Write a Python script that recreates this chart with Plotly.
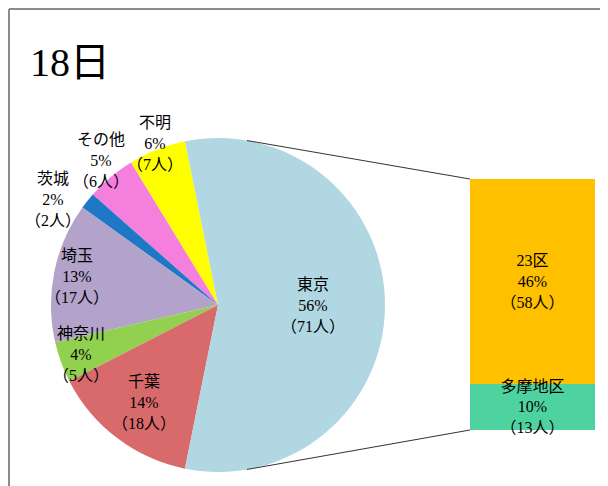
import math
import plotly.graph_objects as go

# ---- data ----
pie_labels = ["不明", "その他", "茨城", "埼玉", "神奈川", "千葉", "東京"]
pie_values = [7, 6, 2, 17, 5, 18, 71]
pie_colors = ["#FFFF00", "#F57FDD", "#1E78C6", "#B3A2CA", "#92D050", "#D86A6C", "#B0D7E2"]

bar_labels = ["23区", "多摩地区"]
bar_values = [58, 13]
bar_colors = ["#FFC000", "#4ED3A0"]

title_text = "18日"

# ---- layout constants (positions, not data) ----
label_radius = [1.04, 1.11, 1.17, 0.86, 0.87, 0.73, 0.57]  # label distance as fraction of R
label_dangle = [0, -1, 6, 0, 0, 0, 0]                       # small angular nudges (deg)

OFF = 8                       # browser body margin
W, H = 608 - OFF, 486 - OFF
total = sum(pie_values)

cx, cy, R = 218, 305, 167     # pie centre / radius in window pixels
fx = lambda px: (px - OFF) / W
fy = lambda py: 1 - (py - OFF) / H

# Tokyo (last slice) centred on the right; counterclockwise from its top edge
deg = [v / total * 360 for v in pie_values]
tokyo_top_cw = 90 - deg[-1] / 2          # clockwise-from-12 angle of Tokyo's top edge
rot = tokyo_top_cw - deg[0]

font_fam = "Liberation Serif, Noto Sans CJK JP, serif"
FS = 16

fig = go.Figure()
fig.add_trace(go.Pie(
    labels=pie_labels, values=pie_values, sort=False,
    direction="counterclockwise", rotation=rot,
    marker=dict(colors=pie_colors, line=dict(width=0)),
    textinfo="none",
    domain=dict(x=[fx(cx - R), fx(cx + R)], y=[fy(cy + R), fy(cy - R)]),
    showlegend=False, hoverinfo="label+value+percent",
))

# pie labels placed at each slice's mid-angle (computed from the data)
annotations = []
acc = deg[-1] / 2             # math angle (ccw from east) of Tokyo's top edge
for lab, v, d, rf, da in zip(pie_labels, pie_values, deg, label_radius, label_dangle):
    if lab == pie_labels[-1]:
        mid = 0.0
    else:
        mid = acc + d / 2
        acc += d
    a = math.radians(mid + da)
    px = cx + rf * R * math.cos(a)
    py = cy - rf * R * math.sin(a)
    pct = round(v / total * 100)
    annotations.append(dict(
        text=f"{lab}<br>{pct}%<br>（{v}人）", x=fx(px), y=fy(py),
        xref="paper", yref="paper", xanchor="center", yanchor="middle",
        showarrow=False, align="center",
        font=dict(family=font_fam, size=FS, color="black")))

# bar of pie: 23区 stacked on top of 多摩地区 (bases from the data)
bar_pct = [round(v / total * 100) for v in bar_values]
bases = [sum(bar_values[i + 1:]) for i in range(len(bar_values))]
for lab, v, c, p, b in zip(bar_labels, bar_values, bar_colors, bar_pct, bases):
    fig.add_trace(go.Bar(
        x=[0], y=[v], base=[b], marker=dict(color=c, line=dict(width=0)),
        text=[f"{lab}<br>{p}%<br>（{v}人）"], textposition="inside",
        insidetextanchor="middle", constraintext="none", cliponaxis=False,
        textfont=dict(family=font_fam, size=FS, color="black"),
        showlegend=False, xaxis="x", yaxis="y", width=1, hoverinfo="x+y",
    ))

annotations.append(dict(text=title_text, x=fx(28), y=fy(62), xref="paper", yref="paper",
                        xanchor="left", yanchor="middle", showarrow=False,
                        font=dict(family=font_fam, size=40, color="black")))

bx0, bx1, by0, by1 = 470, 595, 430, 179
fig.update_layout(
    width=W, height=H, margin=dict(l=0, r=0, t=0, b=0),
    paper_bgcolor="white", plot_bgcolor="rgba(0,0,0,0)",
    barmode="overlay", bargap=0,
    xaxis=dict(domain=[fx(bx0), fx(bx1)], range=[-0.5, 0.5], visible=False, fixedrange=True),
    yaxis=dict(domain=[fy(by0), fy(by1)], range=[0, sum(bar_values)], visible=False, fixedrange=True),
    annotations=annotations,
)

# connector lines from pie edge to bar corners
ang = math.radians(80)
px_top = (cx + R * math.cos(ang), cy - R * math.sin(ang))
px_bot = (cx + R * math.cos(ang), cy + R * math.sin(ang))
shapes = [
    dict(type="line", xref="paper", yref="paper", x0=fx(px_top[0]), y0=fy(px_top[1]),
         x1=fx(bx0), y1=fy(by1), line=dict(color="#333333", width=1)),
    dict(type="line", xref="paper", yref="paper", x0=fx(px_bot[0]), y0=fy(px_bot[1]),
         x1=fx(bx0), y1=fy(by0), line=dict(color="#333333", width=1)),
    # frame
    dict(type="line", xref="paper", yref="paper", x0=fx(9), y0=fy(9), x1=1.0, y1=fy(9),
         line=dict(color="#8C8C8C", width=2)),
    dict(type="line", xref="paper", yref="paper", x0=fx(9), y0=fy(9), x1=fx(9), y1=0.0,
         line=dict(color="#8C8C8C", width=2)),
]
fig.update_layout(shapes=shapes)

fig.write_html("out.html")
